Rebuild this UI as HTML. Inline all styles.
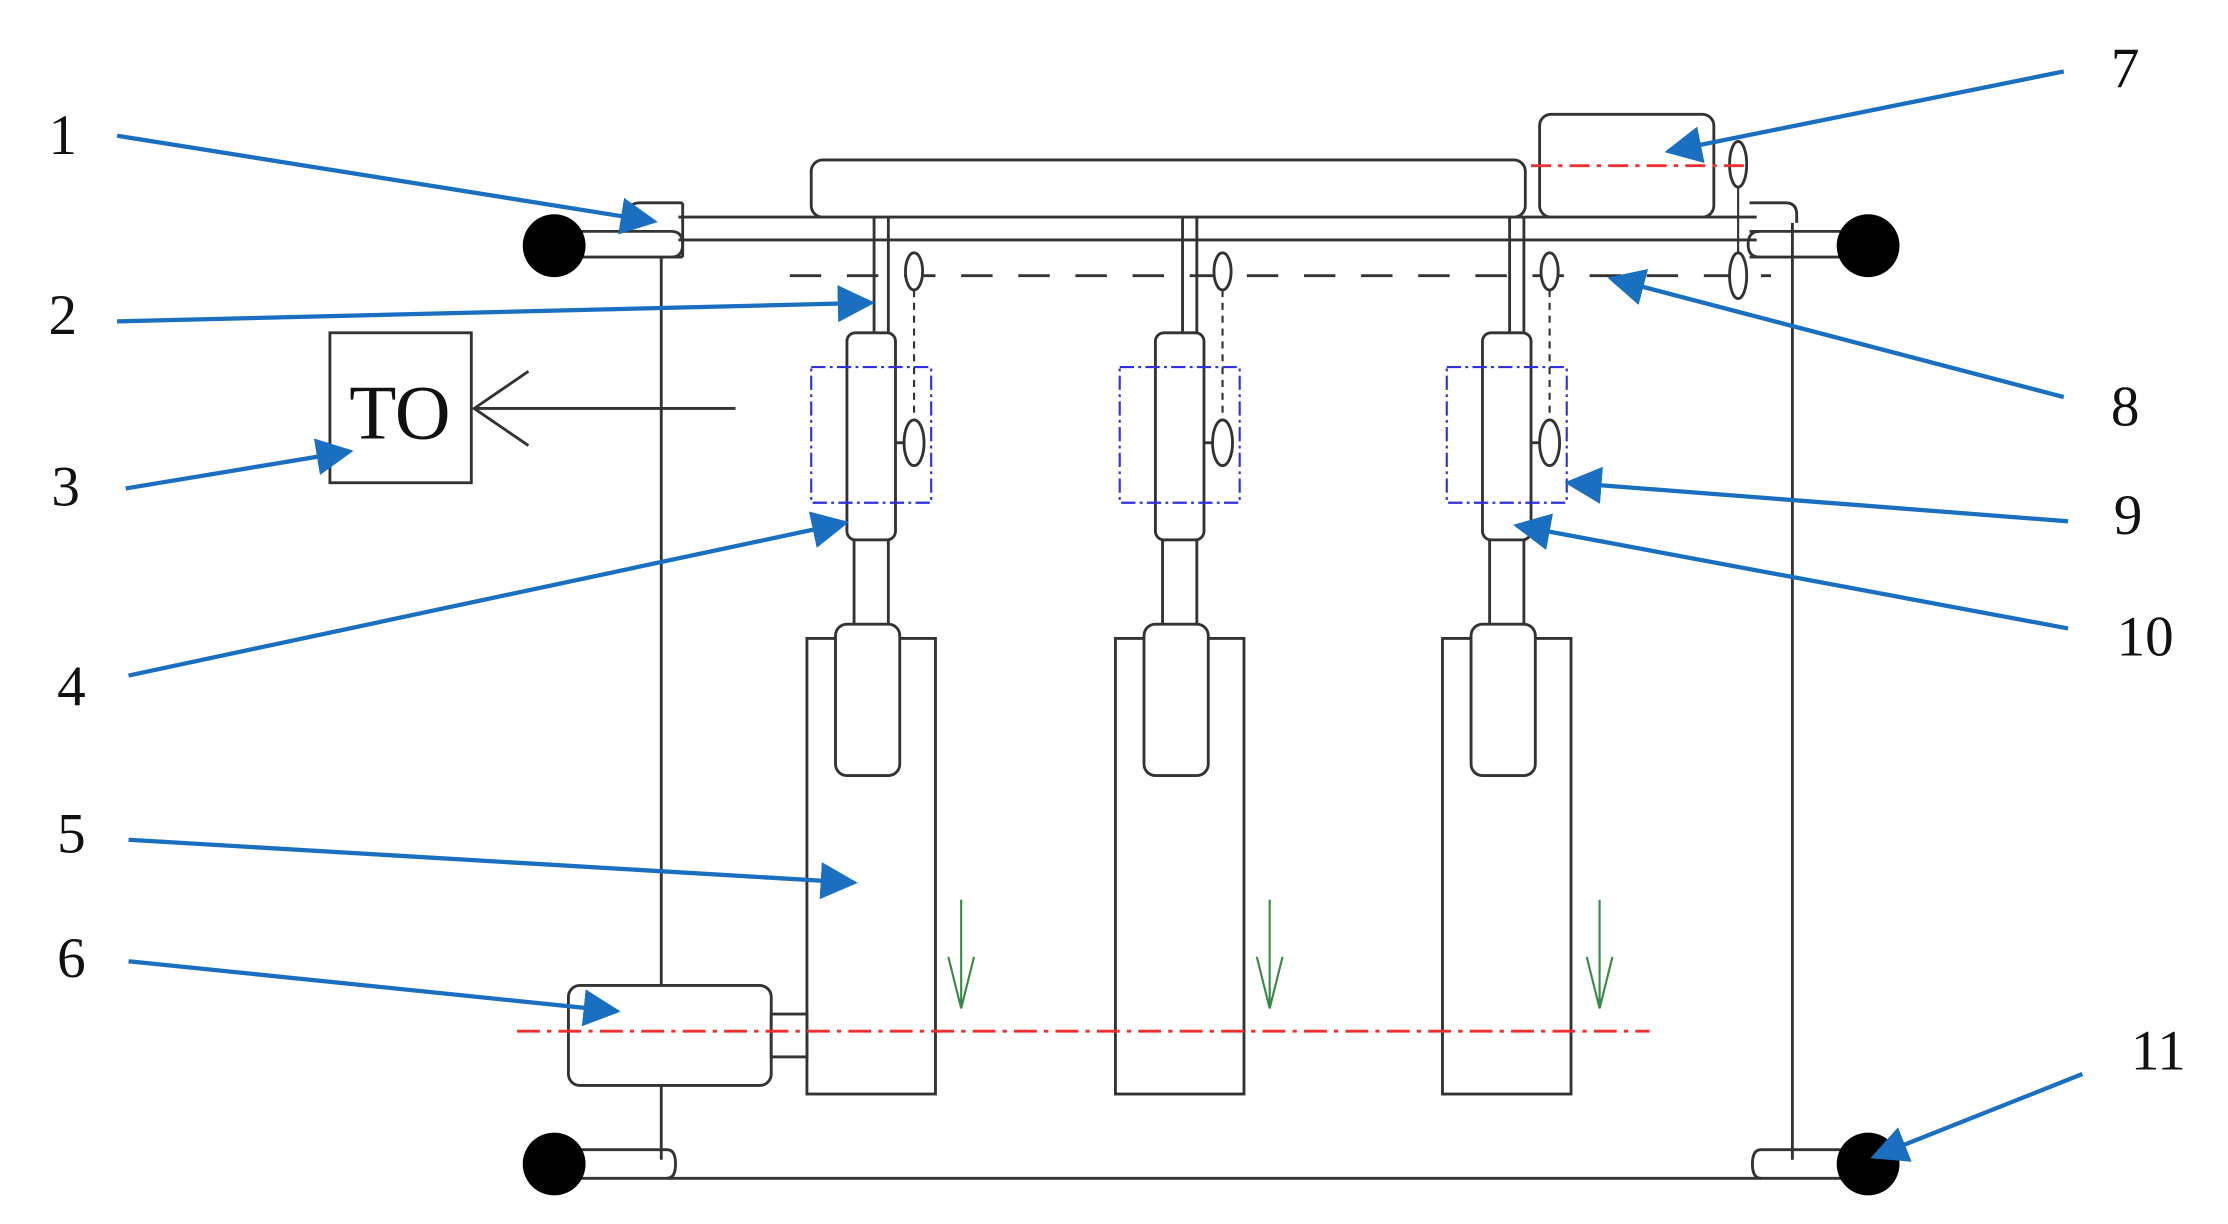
<!DOCTYPE html>
<html><head><style>html,body{margin:0;padding:0;background:#fff}svg{display:block}</style></head>
<body>
<svg width="2228" height="1224" viewBox="0 0 1560 857" xmlns="http://www.w3.org/2000/svg">
<defs>
<marker id="ba" markerWidth="8" markerHeight="8" refX="7" refY="4" orient="auto" markerUnits="userSpaceOnUse" viewBox="0 0 8 8">
</marker>
<marker id="blue" viewBox="0 0 10 10" refX="9" refY="5" markerWidth="26" markerHeight="26" markerUnits="userSpaceOnUse" orient="auto"><path d="M0,0 L10,5 L0,10 z" fill="#1a6fc0"/></marker>
</defs>
<g fill="none" stroke="#333" stroke-width="2">
<!-- top bar -->
<line x1="475" y1="152" x2="1230" y2="152"/>
<line x1="475" y1="168" x2="1230" y2="168"/>
<rect x="568" y="112" width="500" height="40" rx="8" fill="#fff"/>
<rect x="1078" y="80" width="122" height="72" rx="8" fill="#fff"/>
<path d="M478,142 h-30 q-8,0 -8,8 v4 M478,142 v38 M478,180 h-80" />
<path d="M398,162 h72 q8,0 8,9 q0,9 -8,9"/>
<path d="M1225,142 h25 q8,0 8,8 v6 M1225,180 h80 M1225,162 h80"/>
<path d="M1232,162 q-8,0 -8,9 q0,9 8,9"/>
<line x1="463" y1="180" x2="463" y2="812"/>
<line x1="1255" y1="156" x2="1255" y2="812"/>
<!-- bottom -->
<line x1="395" y1="825" x2="1305" y2="825"/>
<path d="M395,805 h72 q6,0 6,10 q0,10 -6,10"/>
<path d="M1305,805 h-72 q-6,0 -6,10 q0,10 6,10"/>
<!-- dashed -->
<line x1="553" y1="193" x2="1240" y2="193" stroke-dasharray="22,18"/>
<ellipse cx="1217" cy="115" rx="6" ry="16" fill="#fff"/>
<ellipse cx="1217" cy="193" rx="6" ry="16" fill="#fff"/>
<line x1="1217" y1="131" x2="1217" y2="177" stroke-width="1.5"/>
</g>
<line x1="1072" y1="116" x2="1222" y2="116" stroke="#f03030" stroke-width="2" stroke-dasharray="14,5,3,5"/>
<circle cx="388" cy="172" r="22"/>
<circle cx="1308" cy="172" r="22"/>
<circle cx="388" cy="815" r="22"/>
<circle cx="1308" cy="815" r="22"/>

<!-- columns -->
<g fill="none" stroke="#333" stroke-width="2">
<g id="c1">
<line x1="612" y1="152" x2="612" y2="238"/><line x1="622" y1="152" x2="622" y2="238"/>
<rect x="593" y="233" width="34" height="145" rx="6" fill="#fff"/>
<rect x="598" y="378" width="24" height="62" fill="#fff"/>
<rect x="565" y="447" width="90" height="319" fill="#fff"/>
<rect x="585" y="437" width="45" height="106" rx="8" fill="#fff"/>
<ellipse cx="640" cy="190" rx="6" ry="13" fill="#fff"/>
<line x1="640" y1="203" x2="640" y2="294" stroke-dasharray="5,4" stroke-width="1.5"/>
<ellipse cx="640" cy="310" rx="7" ry="16" fill="#fff"/>
<line x1="627" y1="310" x2="633" y2="310"/>
<rect x="568" y="257" width="84" height="95" stroke="#3030e0" stroke-width="1.5" stroke-dasharray="10,3,2,3"/>
</g>
<use href="#c1" transform="translate(216,0)"/>
<use href="#c1" transform="translate(445,0)"/>
<!-- box 6 -->
<rect x="398" y="690" width="142" height="70" rx="8" fill="#fff"/>
<rect x="540" y="710" width="25" height="30" fill="#fff"/>
<!-- TO -->
<rect x="231" y="233" width="99" height="105" stroke-width="2"/>
<line x1="515" y1="286" x2="332" y2="286"/>
<path d="M370,260 L332,286 L370,312"/>
</g>
<text x="280" y="307" font-family="Liberation Serif, serif" font-size="54" text-anchor="middle" fill="#111">TO</text>
<line x1="362" y1="722" x2="1155" y2="722" stroke="#f03030" stroke-width="2" stroke-dasharray="16,5,3,5"/>
<g stroke="#3a8a4a" stroke-width="1.5" fill="none">
<path d="M673,630 V706 M664,670 L673,706 L682,670"/>
<path d="M889,630 V706 M880,670 L889,706 L898,670"/>
<path d="M1120,630 V706 M1111,670 L1120,706 L1129,670"/>
</g>
<!-- blue leaders -->
<g stroke="#1a6fc0" stroke-width="3" marker-end="url(#blue)">
<line x1="82" y1="95" x2="458" y2="155"/>
<line x1="82" y1="225" x2="610" y2="212"/>
<line x1="88" y1="342" x2="245" y2="316"/>
<line x1="90" y1="473" x2="592" y2="366"/>
<line x1="90" y1="588" x2="598" y2="618"/>
<line x1="90" y1="673" x2="432" y2="708"/>
<line x1="1445" y1="50" x2="1168" y2="106"/>
<line x1="1445" y1="278" x2="1128" y2="195"/>
<line x1="1448" y1="365" x2="1098" y2="338"/>
<line x1="1448" y1="440" x2="1062" y2="368"/>
<line x1="1458" y1="752" x2="1312" y2="810"/>
</g>
<g font-family="Liberation Serif, serif" font-size="40" fill="#111">
<text x="34" y="108">1</text>
<text x="34" y="234">2</text>
<text x="36" y="354">3</text>
<text x="40" y="494">4</text>
<text x="40" y="597">5</text>
<text x="40" y="684">6</text>
<text x="1478" y="61">7</text>
<text x="1478" y="298">8</text>
<text x="1480" y="374">9</text>
<text x="1482" y="459">10</text>
<text x="1492" y="749">11</text>
</g>
</svg>
</body></html>
